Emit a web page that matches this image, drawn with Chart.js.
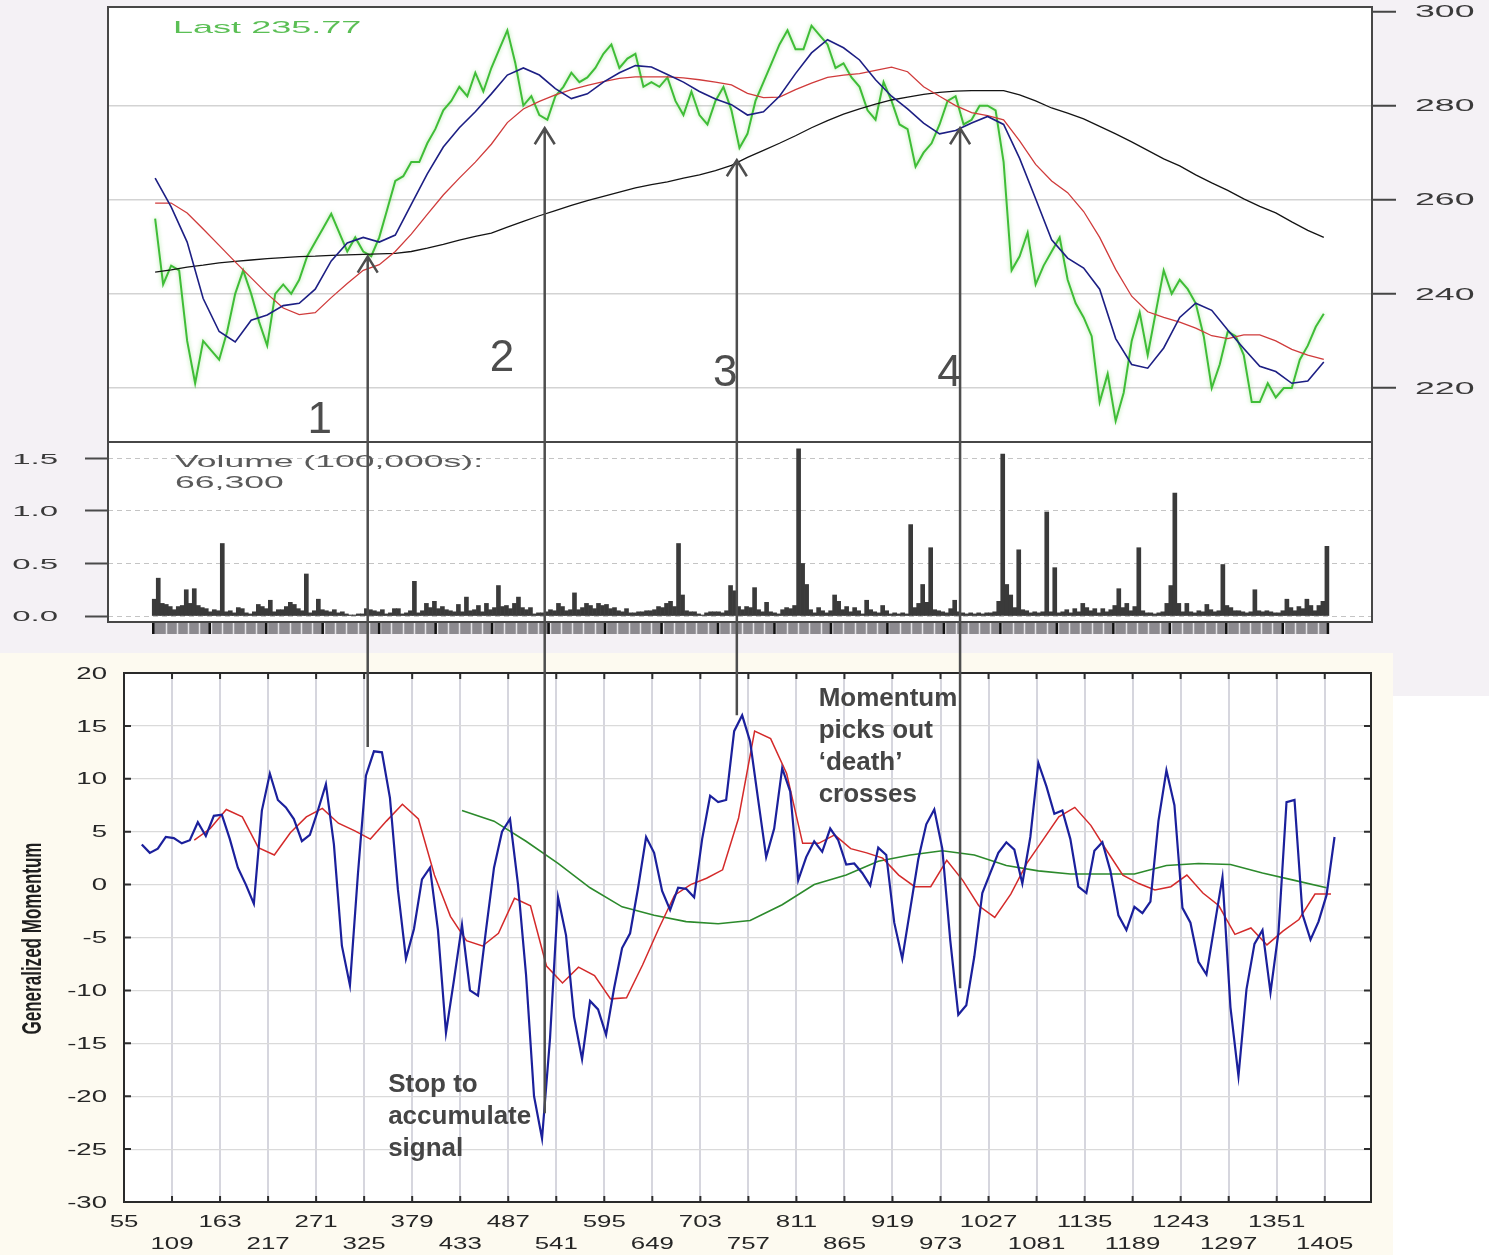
<!DOCTYPE html>
<html>
<head>
<meta charset="utf-8">
<title>Price, volume and generalized momentum</title>
<script src="https://cdn.jsdelivr.net/npm/chart.js@4.4.1/dist/chart.umd.min.js"></script>
<style>
  html, body { margin: 0; padding: 0; background: #ffffff; }
  #page { position: relative; width: 1489px; height: 1255px; overflow: hidden; }
  .bg { position: absolute; }
  #bgTop { left: 0; top: 0; width: 1489px; height: 696px; background: #f4f1f5; }
  #bgBottom { left: 0; top: 653px; width: 1393px; height: 602px; background: #fdfaf0; }
  canvas { position: absolute; left: 0; top: 0; }
</style>
</head>
<body>
<div id="page">
  <div class="bg" id="bgTop"></div>
  <div class="bg" id="bgBottom"></div>
  <canvas id="priceChart" width="1489" height="1255"></canvas>
  <canvas id="volumeChart" width="1489" height="1255"></canvas>
  <canvas id="momentumChart" width="1489" height="1255"></canvas>
</div>
<script>
// ---- price panel: close every 9 days, moving averages every 18 days ----
const priceStart = 90;
const priceStep = 9;
const priceClose = [
  256, 242, 246, 245, 230, 221, 230, 228, 226, 232,
  240, 245, 240, 234, 229, 240, 242, 240, 243, 248,
  251, 254, 257, 253, 249, 252, 249, 248, 252, 258,
  264, 265, 268, 268, 272, 275, 279, 281, 284, 282,
  287, 283, 288, 292, 296, 289, 280, 282, 278, 277,
  282, 284, 287, 285, 286, 288, 291, 293, 288, 290,
  291, 284, 285, 284, 286, 281, 278, 283, 278, 276,
  281, 284, 279, 271, 274, 281, 285, 289, 293, 296,
  292, 292, 297, 295, 293, 288, 289, 286, 284, 279,
  277, 285, 281, 276, 275, 267, 270, 272, 276, 281,
  282, 276, 277, 280, 280, 279, 268, 245, 248, 253,
  242, 246, 249, 252, 243, 238, 235, 231, 217, 223,
  213, 219, 230, 236, 227, 236, 245, 240, 243, 241,
  238, 231, 220, 225, 232, 231, 227, 217, 217, 221,
  218, 220, 220, 226, 229, 233, 235.77
];

const maStart = 90;
const maStep = 18;
const maShort = [
  264.6, 258.5, 251, 239, 232, 229.8, 234.4, 235.5, 237.5, 238,
  241, 247, 250.8, 252, 251, 252.5, 259, 265.5, 271.2, 275.3,
  278.7, 282.5, 286.5, 288, 286.5, 283.6, 281.5, 282.5, 285, 287,
  288.5, 288.2, 286.6, 285, 283, 281.4, 280.2, 278, 278.7, 282,
  286.8, 291.2, 294, 292.3, 289.7, 285.5, 282, 279.3, 276.3, 274,
  274.7, 276.3, 277.7, 276, 268.8, 260.2, 251.5, 247.6, 245.5, 241,
  230.5, 225, 224.2, 228.5, 235, 238, 236.5, 232.3, 228.4, 224.6,
  223.5, 221, 221.5, 225.5
];
const maMedium = [
  259.3, 259.3, 257.2, 253.8, 250.3, 246.8, 243.4, 240, 237, 235.6,
  236, 239.2, 242.2, 245, 246.2, 249, 252.7, 256.9, 261, 264.6,
  268, 271.8, 276.4, 279.3, 280.9, 282.3, 283.4, 284.3, 285.1, 285.8,
  286.1, 286.1, 286.1, 285.9, 285.5, 285, 284.4, 282.6, 281.7, 281.8,
  283.4, 284.8, 286, 286.5, 286.8, 287.5, 288.2, 287.2, 284, 282,
  280, 278.5, 277.9, 277, 272.5, 267.5, 264, 261.5, 257.5, 252,
  245.2, 239.5, 236.2, 235, 234, 232.7, 231.1, 230.5, 231.3, 231.3,
  230, 228.2, 227, 226.1
];
const maLong = [
  244.6, 245.1, 245.7, 246.1, 246.6, 246.9, 247.2, 247.5, 247.7, 247.9,
  248, 248.2, 248.3, 248.4, 248.5, 248.6, 249, 249.7, 250.5, 251.4,
  252.2, 252.9, 254.2, 255.4, 256.6, 257.7, 258.8, 259.8, 260.7, 261.6,
  262.5, 263.2, 263.8, 264.6, 265.3, 266.2, 267.3, 269, 270.5, 272,
  273.6, 275.3, 276.8, 278.2, 279.3, 280.3, 281.2, 281.8, 282.4, 282.8,
  283.1, 283.2, 283.2, 283.2, 282.3, 281, 279.5, 278.4, 277.2, 275.6,
  274, 272.3, 270.5, 268.7, 267.2, 265.3, 263.6, 262, 260.2, 258.6,
  257.2, 255.3, 253.5, 252
];
const priceTicks = [220, 240, 260, 280, 300];

// ---- volume (100,000s of shares) ----
const volumeStart = 89;
const volumeStep = 4.5;
const volume = [
  0.16, 0.36, 0.12, 0.11, 0.09, 0.06, 0.09, 0.10, 0.25, 0.12,
  0.26, 0.10, 0.08, 0.07, 0.04, 0.06, 0.05, 0.69, 0.04, 0.05,
  0.03, 0.08, 0.07, 0.03, 0.02, 0.04, 0.11, 0.09, 0.07, 0.15,
  0.04, 0.06, 0.06, 0.09, 0.13, 0.11, 0.07, 0.05, 0.40, 0.03,
  0.05, 0.16, 0.06, 0.05, 0.04, 0.06, 0.03, 0.04, 0.02, 0.01,
  0.01, 0.02, 0.02, 0.07, 0.06, 0.05, 0.04, 0.06, 0.02, 0.03,
  0.07, 0.07, 0.02, 0.03, 0.05, 0.33, 0.03, 0.05, 0.12, 0.08,
  0.14, 0.07, 0.09, 0.06, 0.05, 0.04, 0.11, 0.04, 0.18, 0.05,
  0.06, 0.10, 0.04, 0.12, 0.06, 0.08, 0.29, 0.09, 0.10, 0.07,
  0.12, 0.18, 0.08, 0.06, 0.08, 0.02, 0.03, 0.03, 0.04, 0.06,
  0.05, 0.12, 0.09, 0.05, 0.06, 0.22, 0.06, 0.08, 0.12, 0.10,
  0.07, 0.12, 0.10, 0.11, 0.07, 0.08, 0.05, 0.04, 0.07, 0.03,
  0.03, 0.04, 0.04, 0.05, 0.05, 0.06, 0.09, 0.08, 0.12, 0.14,
  0.09, 0.69, 0.20, 0.05, 0.04, 0.04, 0.02, 0.01, 0.03, 0.04,
  0.04, 0.04, 0.03, 0.05, 0.29, 0.24, 0.09, 0.06, 0.09, 0.08,
  0.27, 0.06, 0.04, 0.13, 0.04, 0.03, 0.02, 0.06, 0.08, 0.07,
  0.10, 1.59, 0.50, 0.30, 0.06, 0.03, 0.08, 0.05, 0.03, 0.05,
  0.20, 0.14, 0.06, 0.09, 0.04, 0.08, 0.05, 0.02, 0.15, 0.06,
  0.04, 0.03, 0.10, 0.05, 0.02, 0.03, 0.02, 0.03, 0.02, 0.87,
  0.08, 0.12, 0.30, 0.13, 0.65, 0.06, 0.05, 0.04, 0.03, 0.07,
  0.15, 0.04, 0.03, 0.02, 0.03, 0.02, 0.03, 0.02, 0.03, 0.03,
  0.04, 0.14, 1.54, 0.30, 0.20, 0.08, 0.63, 0.06, 0.05, 0.03,
  0.04, 0.03, 0.04, 0.99, 0.04, 0.46, 0.03, 0.04, 0.06, 0.03,
  0.07, 0.04, 0.12, 0.08, 0.05, 0.07, 0.03, 0.07, 0.04, 0.06,
  0.10, 0.26, 0.08, 0.12, 0.05, 0.09, 0.65, 0.05, 0.03, 0.03,
  0.02, 0.03, 0.04, 0.12, 0.29, 1.17, 0.12, 0.04, 0.12, 0.04,
  0.03, 0.05, 0.04, 0.11, 0.06, 0.04, 0.05, 0.49, 0.10, 0.08,
  0.05, 0.05, 0.04, 0.03, 0.04, 0.25, 0.05, 0.04, 0.05, 0.04,
  0.03, 0.03, 0.05, 0.16, 0.08, 0.05, 0.09, 0.07, 0.16, 0.10,
  0.05, 0.10, 0.14, 0.663
];
const volumeTicks = [0, 0.5, 1, 1.5];

// ---- generalized momentum ----
const momentumStart = 75;
const momentumStep = 9;
const momentum = [
  3.8, 3.0, 3.4, 4.5, 4.4, 3.9, 4.2, 5.9, 4.6, 6.5,
  6.6, 4.3, 1.6, 0.0, -1.8, 7.0, 10.5, 8.0, 7.3, 6.2,
  4.1, 4.7, 7.0, 9.5, 3.8, -5.8, -9.5, 1.0, 10.3, 12.6,
  12.5, 8.2, -0.5, -7.0, -4.2, 0.5, 1.6, -4.3, -14.0, -9.0,
  -3.8, -10.0, -10.5, -4.3, 1.6, 5.0, 6.2, 0.0, -8.5, -20.0,
  -24.0, -14.5, -1.2, -4.8, -12.5, -16.5, -11.0, -11.8, -14.2, -9.8,
  -6.0, -4.6, -0.3, 4.5, 3.0, -0.6, -2.4, -0.3, -0.4, -1.2,
  4.3, 8.4, 7.8, 8.0, 14.5, 16.0, 13.5, 8.0, 2.6, 5.3,
  11.0, 8.8, 0.4, 2.6, 4.1, 3.1, 5.3, 4.2, 1.9, 2.0,
  1.1, -0.1, 3.5, 2.8, -3.6, -7.0, -2.3, 2.4, 5.7, 7.1,
  3.4, -5.3, -12.3, -11.4, -6.8, -0.8, 1.1, 3.0, 4.0, 3.3,
  0.1, 4.5, 11.5, 9.3, 6.7, 7.0, 4.3, -0.2, -0.8, 3.2,
  4.0, 1.3, -2.9, -4.3, -2.1, -2.7, -1.6, 6.0, 10.8, 7.5,
  -2.2, -3.6, -7.3, -8.5, -3.9, 0.7, -11.6, -18.1, -9.9, -5.6,
  -4.3, -10.2, -4.5, 7.8, 8.0, -2.8, -5.2, -3.5, -1.0, 4.5
];
const momentumAvgStart = 134;
const momentumAvgStep = 18;
const momentumAvg = [
  4.2, 5.3, 7.1, 6.4, 3.5, 2.8, 4.9, 6.4, 7.2, 5.8,
  5.1, 4.3, 6.0, 7.6, 6.2, 0.9, -3.0, -5.3, -5.8, -4.6,
  -1.3, -2.0, -7.7, -9.3, -7.8, -8.6, -10.8, -10.7, -7.6, -4.2,
  -1.0, 0.0, 0.6, 1.4, 6.3, 14.5, 13.8, 10.5, 3.9, 3.9,
  4.7, 3.4, 3.0, 2.5, 0.9, -0.2, -0.2, 2.3, 0.4, -2.0,
  -3.1, -0.9, 2.0, 4.2, 6.4, 7.3, 5.6, 3.2, 0.9, 0.1,
  -0.5, -0.2, 0.9, -0.8, -2.0, -4.7, -4.1, -5.7, -4.4, -3.3,
  -0.9, -0.9
];
const momentumTrendStart = 435;
const momentumTrendStep = 36;
const momentumTrend = [
  7.0, 6.0, 4.1, 2.0, -0.3, -2.1, -2.9, -3.5, -3.7, -3.4,
  -1.9, 0.0, 0.9, 2.2, 2.8, 3.2, 2.8, 1.8, 1.3, 1.0,
  1.0, 1.0, 1.8, 2.0, 1.9, 1.1, 0.4, -0.3
];
const momentumTicks = [-30, -25, -20, -15, -10, -5, 0, 5, 10, 15, 20];
const dayTicks = [
  55, 109, 163, 217, 271, 325, 379, 433, 487, 541, 595, 649, 703,
  757, 811, 865, 919, 973, 1027, 1081, 1135, 1189, 1243, 1297, 1351, 1405
];

// crossings marked on the price panel and traced down to the momentum panel
const crossSignals = [
  { label: '1', day: 329, price: 247.9, momentum: 13.0, labelDay: 275, labelPrice: 213.0 },
  { label: '2', day: 528, price: 275.2, momentum: -21.6, labelDay: 480, labelPrice: 226.2 },
  { label: '3', day: 744, price: 268.4, momentum: 16.0, labelDay: 731, labelPrice: 223.0 },
  { label: '4', day: 995, price: 275.2, momentum: -9.8, labelDay: 983, labelPrice: 223.0 }
];
const notes = [
  { lines: ['Stop to', 'accumulate', 'signal'], day: 352, value: -19.6 },
  { lines: ['Momentum', 'picks out', '\u2018death\u2019', 'crosses'], day: 836, value: 16.9 }
];

const toPoints = (values, start, step) => values.map((y, i) => ({ x: start + i * step, y }));

// wide, flattened lettering used on the axes
function wideText(ctx, text, x, y, o) {
  ctx.save();
  ctx.font = o.font;
  ctx.fillStyle = o.color;
  ctx.textBaseline = o.baseline || 'middle';
  ctx.textAlign = 'left';
  const sx = o.sx || 1;
  const w = ctx.measureText(text).width * sx;
  const left = o.align === 'right' ? x - w : o.align === 'center' ? x - w / 2 : x;
  ctx.translate(left, y);
  ctx.scale(sx, 1);
  ctx.fillText(text, 0, 0);
  ctx.restore();
}

function fillArea(chart) {
  const { ctx, chartArea: a } = chart;
  ctx.save();
  ctx.fillStyle = '#ffffff';
  ctx.fillRect(a.left, a.top, a.width, a.height);
  ctx.restore();
}

function frameArea(chart, color) {
  const { ctx, chartArea: a } = chart;
  ctx.save();
  ctx.strokeStyle = color;
  ctx.lineWidth = 2;
  ctx.strokeRect(a.left, a.top, a.width, a.height);
  ctx.restore();
}

const base = {
  responsive: false,
  animation: false,
  devicePixelRatio: 1,
  events: [],
  plugins: { legend: { display: false }, tooltip: { enabled: false } }
};
const SANS = '"Liberation Sans", Arial, sans-serif';

// ---------- price ----------
const lineSet = (label, values, start, step, color, width) => ({
  label, data: toPoints(values, start, step), borderColor: color, borderWidth: width,
  pointRadius: 0, tension: 0, fill: false
});

const priceChart = new Chart(document.getElementById('priceChart'), {
  type: 'line',
  data: {
    datasets: [
      lineSet('MA short', maShort, maStart, maStep, '#1d1f84', 1.6),
      lineSet('MA medium', maMedium, maStart, maStep, '#d03b3b', 1.3),
      lineSet('MA long', maLong, maStart, maStep, '#141414', 1.3),
      lineSet('Close', priceClose, priceStart, priceStep, '#3fbd37', 2)
    ]
  },
  options: {
    ...base,
    layout: { padding: { left: 108, top: 7, right: 0, bottom: 813 } },
    scales: {
      x: { type: 'linear', min: 37.0, max: 1458.2, display: false },
      y: {
        position: 'right', min: 208.52, max: 300.96,
        afterBuildTicks: s => { s.ticks = priceTicks.map(v => ({ value: v })); },
        afterFit: s => { s.width = 117; },
        ticks: { display: false },
        border: { display: false },
        grid: {
          color: c => (c.tick && c.tick.value === 300 ? 'rgba(0,0,0,0)' : '#d3d3d3'),
          lineWidth: 1.5, drawTicks: true, tickLength: 24, tickColor: '#454545', tickWidth: 2
        }
      }
    }
  },
  plugins: [{
    id: 'pricePanel',
    beforeDraw: fillArea,
    beforeDatasetDraw(chart, args) {
      if (args.index === 3) {
        chart.ctx.save();
        chart.ctx.shadowColor = 'rgba(120, 215, 100, 0.6)';
        chart.ctx.shadowBlur = 4;
      }
    },
    afterDatasetDraw(chart, args) {
      if (args.index === 3) chart.ctx.restore();
    },
    afterDraw(chart) {
      const { ctx, chartArea: a, scales } = chart;
      frameArea(chart, '#474747');
      priceTicks.forEach(v => {
        wideText(ctx, String(v), a.right + 43, scales.y.getPixelForValue(v) + 1,
          { font: '17px ' + SANS, color: '#3a3a3a', sx: 2.1 });
      });
      const last = priceClose[priceClose.length - 1];
      wideText(ctx, 'Last ' + last.toFixed(2), a.left + 65, a.top + 21,
        { font: '17px ' + SANS, color: '#5bbf55', sx: 2.12 });
    }
  }]
});

// ---------- volume ----------
const volumeChart = new Chart(document.getElementById('volumeChart'), {
  type: 'bar',
  data: {
    datasets: [{
      label: 'Volume', data: toPoints(volume, volumeStart, volumeStep),
      backgroundColor: '#3a3a3a', borderWidth: 0, barThickness: 4
    }]
  },
  options: {
    ...base,
    layout: { padding: { left: 0, top: 442, right: 117, bottom: 633 } },
    scales: {
      x: { type: 'linear', min: 37.0, max: 1458.2, offset: false, display: false },
      y: {
        position: 'left', min: -0.057, max: 1.656,
        afterBuildTicks: s => { s.ticks = volumeTicks.map(v => ({ value: v })); },
        afterFit: s => { s.width = 108; },
        ticks: { display: false },
        border: { display: false, dash: [5, 4] },
        grid: {
          color: '#c4c4c4', lineWidth: 1, drawTicks: true, tickLength: 23,
          tickColor: '#4a4a4a', tickWidth: 2, tickBorderDash: []
        }
      }
    }
  },
  plugins: [{
    id: 'volumePanel',
    beforeDraw: fillArea,
    afterDraw(chart) {
      const { ctx, chartArea: a, scales } = chart;
      frameArea(chart, '#474747');
      volumeTicks.forEach(v => {
        wideText(ctx, v.toFixed(1), 58, scales.y.getPixelForValue(v) + 1,
          { font: '15px ' + SANS, color: '#3a3a3a', sx: 2.2, align: 'right' });
      });
      const lastVol = Math.round(volume[volume.length - 1] * 100000).toLocaleString('en-US');
      wideText(ctx, 'Volume (100,000s):', a.left + 67, a.top + 21,
        { font: '16px ' + SANS, color: '#5a5a5a', sx: 2.22 });
      wideText(ctx, lastVol, a.left + 67, a.top + 42,
        { font: '16px ' + SANS, color: '#5a5a5a', sx: 2.22 });

      // date strip under the bars
      const xs = scales.x;
      const endDay = volumeStart + (volume.length - 1) * volumeStep;
      const x0 = xs.getPixelForValue(volumeStart) - 2;
      const x1 = xs.getPixelForValue(endDay) + 2;
      const top = a.bottom + 1;
      ctx.save();
      ctx.fillStyle = '#8c8a8f';
      ctx.fillRect(x0, top, x1 - x0, 11);
      ctx.strokeStyle = '#e6e4e8';
      ctx.lineWidth = 1.5;
      for (let d = volumeStart + 12.7; d < endDay; d += 12.7) {
        const px = Math.round(xs.getPixelForValue(d)) + 0.5;
        ctx.beginPath(); ctx.moveTo(px, top); ctx.lineTo(px, top + 11); ctx.stroke();
      }
      ctx.strokeStyle = '#111111';
      ctx.lineWidth = 2.5;
      for (let d = volumeStart; d <= endDay + 1; d += 63.5) {
        const px = xs.getPixelForValue(d) - 1;
        ctx.beginPath(); ctx.moveTo(px, top); ctx.lineTo(px, top + 11); ctx.stroke();
      }
      const pe = x1 - 1;
      ctx.beginPath(); ctx.moveTo(pe, top); ctx.lineTo(pe, top + 11); ctx.stroke();
      ctx.restore();
    }
  }]
});

// ---------- generalized momentum ----------
const momentumChart = new Chart(document.getElementById('momentumChart'), {
  type: 'line',
  data: {
    datasets: [
      lineSet('Momentum', momentum, momentumStart, momentumStep, '#1b209c', 2.2),
      lineSet('Momentum average', momentumAvg, momentumAvgStart, momentumAvgStep, '#d42a2a', 1.5),
      lineSet('Momentum trend', momentumTrend, momentumTrendStart, momentumTrendStep, '#2c8a2c', 1.6)
    ]
  },
  options: {
    ...base,
    layout: { padding: { left: 0, top: 673, right: 118, bottom: 0 } },
    scales: {
      x: {
        type: 'linear', min: 55, max: 1457,
        afterBuildTicks: s => { s.ticks = dayTicks.map(v => ({ value: v })); },
        afterFit: s => { s.height = 53; },
        ticks: { display: false },
        border: { display: false },
        grid: { color: '#d6d6de', lineWidth: 2, drawTicks: false }
      },
      y: {
        min: -30, max: 20,
        afterBuildTicks: s => { s.ticks = momentumTicks.map(v => ({ value: v })); },
        afterFit: s => { s.width = 124; },
        ticks: { display: false },
        border: { display: false },
        grid: { color: '#dadada', lineWidth: 1.2, drawTicks: false }
      }
    }
  },
  plugins: [{
    id: 'momentumPanel',
    beforeDraw: fillArea,
    afterDraw(chart) {
      const { ctx, chartArea: a, scales } = chart;
      const xs = scales.x, ys = scales.y;

      // short inward ticks on all four sides
      ctx.save();
      ctx.strokeStyle = '#2e2e2e';
      ctx.lineWidth = 2;
      dayTicks.forEach(d => {
        const px = xs.getPixelForValue(d);
        ctx.beginPath();
        ctx.moveTo(px, a.top); ctx.lineTo(px, a.top + 6);
        ctx.moveTo(px, a.bottom); ctx.lineTo(px, a.bottom - 6);
        ctx.stroke();
      });
      momentumTicks.forEach(v => {
        const py = ys.getPixelForValue(v);
        ctx.beginPath();
        ctx.moveTo(a.left, py); ctx.lineTo(a.left + 7, py);
        ctx.moveTo(a.right, py); ctx.lineTo(a.right - 7, py);
        ctx.stroke();
      });
      ctx.restore();
      frameArea(chart, '#2a2a2a');

      const labelFont = '17px ' + SANS;
      momentumTicks.forEach(v => {
        wideText(ctx, String(v), a.left - 17, ys.getPixelForValue(v) + 1,
          { font: labelFont, color: '#262626', sx: 1.62, align: 'right' });
      });
      dayTicks.forEach((d, i) => {
        wideText(ctx, String(d), xs.getPixelForValue(d), i % 2 === 0 ? a.bottom + 20 : a.bottom + 42,
          { font: labelFont, color: '#262626', sx: 1.52, align: 'center' });
      });

      // axis title
      ctx.save();
      ctx.translate(33, (a.top + a.bottom) / 2 + 1);
      ctx.rotate(-Math.PI / 2);
      ctx.font = 'bold 28px ' + SANS;
      ctx.fillStyle = '#1e1e1e';
      ctx.textBaseline = 'middle';
      ctx.textAlign = 'left';
      const title = 'Generalized Momentum';
      const tw = ctx.measureText(title).width;
      ctx.scale(192 / tw, 1);
      ctx.fillText(title, -tw / 2, 0);
      ctx.restore();

      // notes
      ctx.save();
      ctx.font = 'bold 26px ' + SANS;
      ctx.fillStyle = '#454545';
      ctx.textBaseline = 'alphabetic';
      ctx.textAlign = 'left';
      notes.forEach(n => {
        const nx = xs.getPixelForValue(n.day);
        const ny = ys.getPixelForValue(n.value);
        n.lines.forEach((t, i) => ctx.fillText(t, nx, ny + i * 32));
      });
      ctx.restore();

      // arrows from the price crossings down to the momentum readings
      const px = priceChart.scales.x, py = priceChart.scales.y;
      ctx.save();
      ctx.strokeStyle = '#4e4e4e';
      ctx.lineWidth = 2.5;
      ctx.lineJoin = 'miter';
      crossSignals.forEach(s => {
        const x = xs.getPixelForValue(s.day);
        const yTip = py.getPixelForValue(s.price);
        const yEnd = ys.getPixelForValue(s.momentum);
        ctx.beginPath();
        ctx.moveTo(x, yEnd); ctx.lineTo(x, yTip);
        ctx.moveTo(x - 10, yTip + 16); ctx.lineTo(x, yTip); ctx.lineTo(x + 10, yTip + 16);
        ctx.stroke();
      });
      ctx.fillStyle = '#4d4d4d';
      ctx.font = '44px ' + SANS;
      ctx.textAlign = 'center';
      ctx.textBaseline = 'middle';
      crossSignals.forEach(s => {
        ctx.fillText(s.label, px.getPixelForValue(s.labelDay), py.getPixelForValue(s.labelPrice));
      });
      ctx.restore();
    }
  }]
});
</script>
</body>
</html>
